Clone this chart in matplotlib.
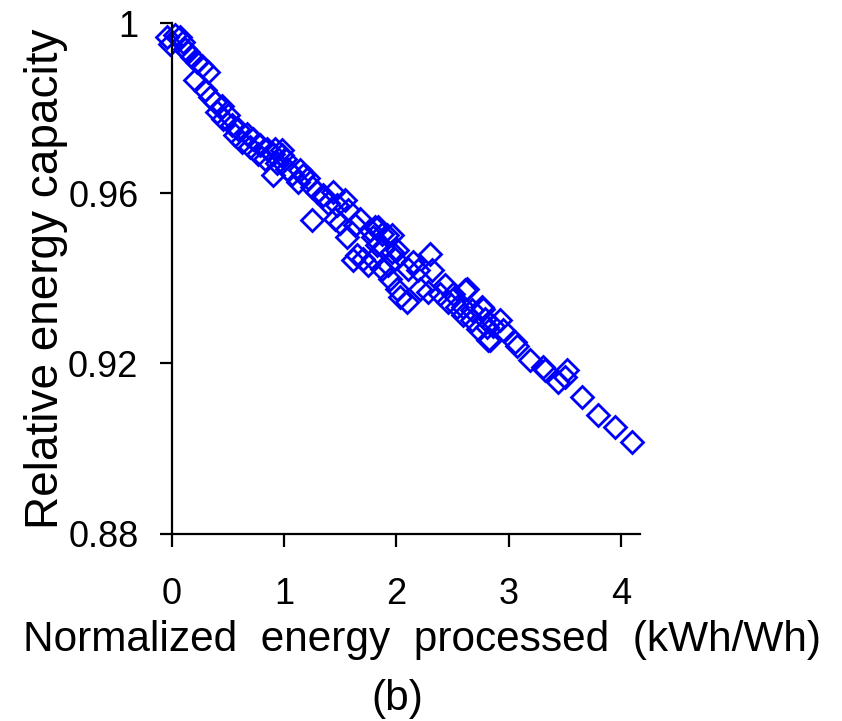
import matplotlib
matplotlib.use("Agg")
import matplotlib.pyplot as plt

plt.rcParams['font.family'] = ['Liberation Sans', 'DejaVu Sans']

# Normalized energy processed (kWh/Wh) and relative energy capacity
energy = [-0.045, -0.015, 0.029, 0.074, 0.101, 0.118, 0.145, 0.178, 0.223, 0.267,
          0.323, 0.207, 0.297, 0.341, 0.386, 0.445, 0.401, 0.459, 0.501, 0.534,
          0.590, 0.564, 0.623, 0.668, 0.724, 0.697, 0.768, 0.786, 0.846, 0.902,
          0.831, 0.980, 1.009,
          0.920, 0.980, 0.935, 0.905, 1.024, 1.069, 1.142, 1.172, 1.127, 1.216,
          1.247, 1.291, 1.350, 1.439, 1.394, 1.469, 1.543, 1.573, 1.454, 1.247,
          1.499, 1.632, 1.677, 1.766, 1.840, 1.915, 1.558, 1.795, 1.884, 1.647,
          1.617, 1.706, 1.751, 1.959, 1.988, 1.929,
          1.810, 1.870, 1.959, 1.825, 2.004, 1.795, 1.870, 1.944, 2.004, 2.093,
          2.107, 2.151, 2.196, 2.300, 2.315, 2.211, 2.285, 2.434, 2.389, 2.508,
          2.627, 2.463, 2.538, 2.597, 2.671, 2.760, 2.790, 2.033,
          2.612, 2.597, 2.671, 2.730, 2.819, 2.923, 2.864, 2.953, 3.057, 3.072,
          3.191, 3.309, 3.517,
          2.775, 2.805, 2.834, 3.324, 3.443, 3.502, 3.651, 3.799, 3.947, 4.096]
capacity = [0.9967, 0.9951, 0.9971, 0.9967, 0.9955, 0.9940, 0.9932, 0.9920, 0.9908, 0.9900,
            0.9885, 0.9865, 0.9842, 0.9826, 0.9814, 0.9806, 0.9791, 0.9775, 0.9784, 0.9760,
            0.9751, 0.9736, 0.9720, 0.9740, 0.9728, 0.9708, 0.9692, 0.9713, 0.9704, 0.9692,
            0.9681, 0.9701, 0.9681,
            0.9705, 0.9689, 0.9670, 0.9642, 0.9658, 0.9646, 0.9654, 0.9642, 0.9627, 0.9635,
            0.9615, 0.9603, 0.9595, 0.9603, 0.9576, 0.9572, 0.9584, 0.9560, 0.9540, 0.9536,
            0.9529, 0.9525, 0.9540, 0.9513, 0.9521, 0.9501, 0.9497, 0.9497, 0.9474, 0.9454,
            0.9442, 0.9446, 0.9431, 0.9462, 0.9446, 0.9431,
            0.9521, 0.9505, 0.9501, 0.9478, 0.9466, 0.9446, 0.9423, 0.9399, 0.9376, 0.9344,
            0.9423, 0.9438, 0.9419, 0.9458, 0.9419, 0.9376, 0.9368, 0.9384, 0.9364, 0.9364,
            0.9376, 0.9344, 0.9332, 0.9313, 0.9325, 0.9332, 0.9305, 0.9356,
            0.9372, 0.9332, 0.9301, 0.9282, 0.9254, 0.9301, 0.9289, 0.9278, 0.9250, 0.9242,
            0.9207, 0.9191, 0.9184,
            0.9329, 0.9285, 0.9254, 0.9184, 0.9156, 0.9168, 0.9121, 0.9078, 0.9050, 0.9015]

xticks = [0, 1, 2, 3, 4]
yticks = [0.88, 0.92, 0.96, 1.0]
yticklabels = ["0.88", "0.92", "0.96", "1"]

fig = plt.figure(figsize=(8.42, 7.21), dpi=100)
ax = fig.add_axes([0.204, 0.260, 0.556, 0.708])

ax.plot(energy, capacity, linestyle='none', marker='D', markersize=11.5,
        markerfacecolor='none', markeredgecolor='#0000ff', markeredgewidth=2.0,
        clip_on=False)

ax.set_xlim(0, 4.17)
ax.set_ylim(0.88, 1.0)
ax.set_xticks(xticks)
ax.set_yticks(yticks)
ax.set_yticklabels(yticklabels)

for side in ['top', 'right']:
    ax.spines[side].set_visible(False)
for side in ['left', 'bottom']:
    ax.spines[side].set_linewidth(1.6)

ax.tick_params(axis='both', direction='out', length=9, width=1.6, labelsize=26)
ax.tick_params(axis='x', pad=22)
ax.tick_params(axis='y', pad=15)

ax.set_ylabel('Relative energy capacity', fontsize=33, labelpad=0)
fig.text(0.501, 0.112, 'Normalized  energy  processed  (kWh/Wh)', fontsize=30.5,
         ha='center', va='center')
fig.text(0.472, 0.030, '(b)', fontsize=30.5, ha='center', va='center')

fig.savefig('out.png', dpi=100)
